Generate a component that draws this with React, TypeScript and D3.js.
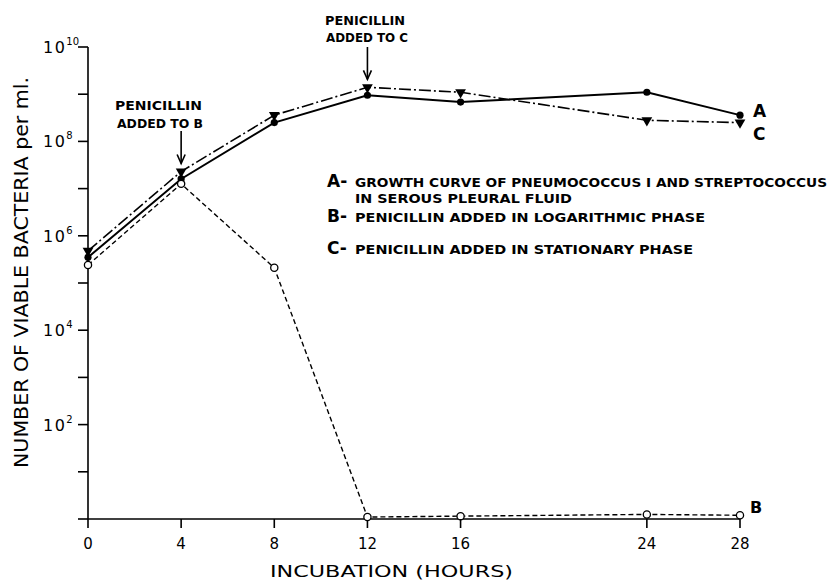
import React from "react";
import * as d3 from "d3";

// incubation times (hours) and viable counts per ml
const hours = [0, 4, 8, 12, 16, 24, 28];
const curveA = [3.5e5, 1.6e7, 2.5e8, 9.5e8, 6.8e8, 1.1e9, 3.6e8];
const curveB = [2.4e5, 1.26e7, 2.1e5, 1.1, 1.15, 1.25, 1.2];
const curveC = [4.8e5, 2.3e7, 3.6e8, 1.4e9, 1.1e9, 2.8e8, 2.5e8];

const xTicks = [0, 4, 8, 12, 16, 24, 28];
const yDecades = [0, 1, 2, 3, 4, 5, 6, 7, 8, 9, 10];
const yLabelDecades = [2, 4, 6, 8, 10];

const legendRows = [
  { key: "A-", text: "GROWTH CURVE OF PNEUMOCOCCUS I AND STREPTOCOCCUS", len: 472, y: 187 },
  { key: "", text: "IN SEROUS PLEURAL FLUID", len: 217, y: 203 },
  { key: "B-", text: "PENICILLIN ADDED IN LOGARITHMIC PHASE", len: 350, y: 222 },
  { key: "C-", text: "PENICILLIN ADDED IN STATIONARY PHASE", len: 338, y: 254 },
];

const FONT = "'DejaVu Sans', 'Liberation Sans', sans-serif";

const App = () => {
  const x = d3.scaleLinear().domain([0, 28]).range([88, 740]);
  const y = d3.scaleLog().domain([1, 1e10]).range([519, 47]);

  const line = d3
    .line<number>()
    .x((_, i) => x(hours[i]))
    .y((d) => y(d));

  const tri = d3.symbol(d3.symbolTriangle, 50);

  const arrow = (hx: number, y0: number, y1: number) => (
    <g stroke="#000" strokeWidth={1.6} fill="none">
      <line x1={hx} x2={hx} y1={y0} y2={y1} />
      <polyline points={`${hx - 4},${y1 - 9} ${hx},${y1} ${hx + 4},${y1 - 9}`} />
    </g>
  );

  return (
    <svg
      width={828}
      height={580}
      style={{ position: "absolute", left: 0, top: 0, background: "#fff" }}
      fontFamily={FONT}
    >
      {/* axes */}
      <g stroke="#000" strokeWidth={1.6}>
        <line x1={x(0)} x2={x(0)} y1={y(1e10)} y2={y(1)} />
        <line x1={x(0)} x2={x(28)} y1={y(1)} y2={y(1)} />
        {yDecades.map((d) => (
          <line key={d} x1={x(0) - 10} x2={x(0)} y1={y(Math.pow(10, d))} y2={y(Math.pow(10, d))} />
        ))}
        {xTicks.map((t) => (
          <line key={t} x1={x(t)} x2={x(t)} y1={y(1)} y2={y(1) + 9} />
        ))}
      </g>

      {yLabelDecades.map((d) => (
        <text key={d} x={43} y={y(Math.pow(10, d)) + 6} fontSize={16} letterSpacing={1.5}>
          10
          <tspan dy={-8} fontSize={10} letterSpacing={0}>
            {d}
          </tspan>
        </text>
      ))}

      {xTicks.map((t) => (
        <text key={t} x={x(t)} y={549} fontSize={15} textAnchor="middle">
          {t}
        </text>
      ))}

      <text x={270} y={577} fontSize={15} textLength={243} lengthAdjust="spacingAndGlyphs">
        INCUBATION (HOURS)
      </text>
      <text
        transform="translate(28,272.5) rotate(-90)"
        fontSize={19}
        textAnchor="middle"
        textLength={391}
        lengthAdjust="spacingAndGlyphs"
      >
        NUMBER OF VIABLE BACTERIA per ml.
      </text>

      {/* curves */}
      <path d={line(curveB) || ""} fill="none" stroke="#000" strokeWidth={1.4} strokeDasharray="5,3" />
      <path d={line(curveC) || ""} fill="none" stroke="#000" strokeWidth={1.6} strokeDasharray="12,3,2,3" />
      <path d={line(curveA) || ""} fill="none" stroke="#000" strokeWidth={2} />

      {curveA.map((v, i) => (
        <circle key={"a" + i} cx={x(hours[i])} cy={y(v)} r={3.6} fill="#000" />
      ))}
      {curveC.map((v, i) => (
        <path
          key={"c" + i}
          d={tri() || ""}
          transform={`translate(${x(hours[i])},${y(v)}) rotate(180)`}
          fill="#000"
        />
      ))}
      {curveB.map((v, i) => (
        <circle key={"b" + i} cx={x(hours[i])} cy={y(v)} r={3.6} fill="#fff" stroke="#000" strokeWidth={1.3} />
      ))}

      {/* end labels */}
      <text x={753} y={117} fontSize={17} fontWeight="bold">A</text>
      <text x={753} y={140} fontSize={17} fontWeight="bold">C</text>
      <text x={750} y={513} fontSize={16} fontWeight="bold">B</text>

      {/* penicillin annotations */}
      <text x={158.5} y={110} fontSize={12} fontWeight="bold" textAnchor="middle" textLength={87} lengthAdjust="spacingAndGlyphs">
        PENICILLIN
      </text>
      <text x={160} y={128} fontSize={12} fontWeight="bold" textAnchor="middle" textLength={86} lengthAdjust="spacingAndGlyphs">
        ADDED TO B
      </text>
      {arrow(x(4), 131, y(curveC[1]) - 8)}

      <text x={365} y={25} fontSize={12} fontWeight="bold" textAnchor="middle" textLength={80} lengthAdjust="spacingAndGlyphs">
        PENICILLIN
      </text>
      <text x={367} y={42} fontSize={12} fontWeight="bold" textAnchor="middle" textLength={82} lengthAdjust="spacingAndGlyphs">
        ADDED TO C
      </text>
      {arrow(x(12), 47, y(curveC[3]) - 8)}

      {/* legend */}
      {legendRows.map((r) => (
        <g key={r.text}>
          {r.key && (
            <text x={327} y={r.y} fontSize={17} fontWeight="bold">
              {r.key}
            </text>
          )}
          <text x={355} y={r.y} fontSize={13} fontWeight="bold" textLength={r.len} lengthAdjust="spacingAndGlyphs">
            {r.text}
          </text>
        </g>
      ))}
    </svg>
  );
};

export default App;
